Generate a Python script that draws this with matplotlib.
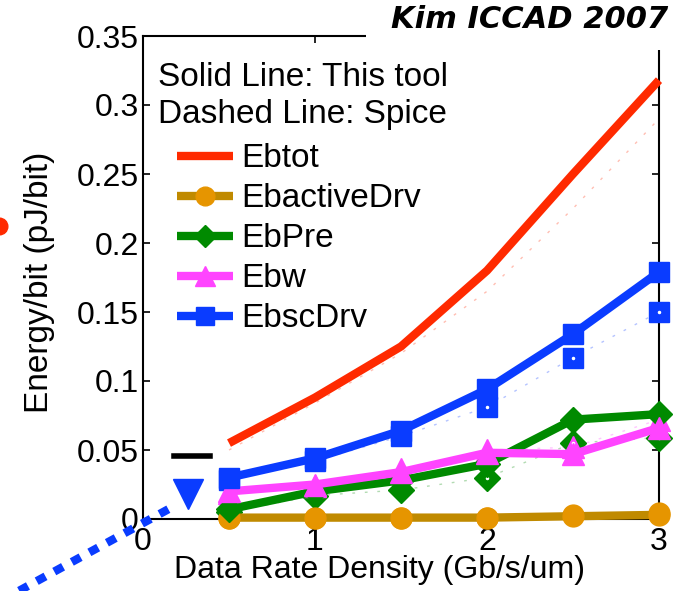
import matplotlib
matplotlib.use("Agg")
from matplotlib import pyplot as plt
from matplotlib.patches import Rectangle
import numpy as np

rate = [0.5, 1.0, 1.5, 2.0, 2.5, 3.0]

# solid lines: this tool
ebtot = [0.055, 0.088, 0.125, 0.180, 0.250, 0.318]
ebactive = [0.001, 0.001, 0.001, 0.001, 0.002, 0.003]
ebpre = [0.007, 0.020, 0.028, 0.040, 0.072, 0.076]
ebw = [0.020, 0.025, 0.034, 0.048, 0.047, 0.066]
ebsc = [0.030, 0.044, 0.064, 0.094, 0.134, 0.179]

# dashed lines: spice
ebtot_sp = [0.050, 0.084, 0.120, 0.165, 0.225, 0.290]
ebactive_sp = [0.001, 0.001, 0.001, 0.001, 0.003, 0.004]
ebpre_sp = [0.005, 0.017, 0.021, 0.030, 0.055, 0.059]
ebw_sp = [0.019, 0.024, 0.036, 0.050, 0.052, 0.072]
ebsc_sp = [0.028, 0.042, 0.060, 0.081, 0.117, 0.150]

names = ["Ebtot", "EbactiveDrv", "EbPre", "Ebw", "EbscDrv"]
solid = [ebtot, ebactive, ebpre, ebw, ebsc]
spice = [ebtot_sp, ebactive_sp, ebpre_sp, ebw_sp, ebsc_sp]
line_colors = ["#ff2a00", "#c08a00", "#008a00", "#ff44ff", "#0a3cff"]
mark_colors = ["#ff2a00", "#e69500", "#008a00", "#ff44ff", "#0a3cff"]
markers = [None, "o", "D", "^", "s"]
msizes = [0, 15, 13, 16, 15]

plt.rcParams["font.family"] = ["Liberation Sans", "DejaVu Sans"]

fig = plt.figure(figsize=(6.75, 5.91), dpi=100, facecolor="white")
ax = fig.add_axes([143 / 675, 1 - 519 / 591, 516 / 675, 483 / 591])

for i in range(len(names)):
    ax.plot(rate, spice[i], color=line_colors[i], lw=1, alpha=0.3,
            dashes=(2, 7), zorder=2)
    if markers[i] is not None:
        ax.plot(rate, spice[i], ls="none", marker=markers[i], ms=msizes[i],
                color=mark_colors[i], mec=mark_colors[i], zorder=3,
                clip_on=False)
        ax.plot(rate, spice[i], ls="none", marker=".", ms=3,
                color="white", zorder=3.5, clip_on=False)
    ax.plot(rate, solid[i], color=line_colors[i], lw=6, zorder=4,
            marker=markers[i], ms=msizes[i], mfc=mark_colors[i],
            mec=mark_colors[i], label=names[i], solid_capstyle="butt",
            clip_on=False)

# slide leftovers around the plot
ax.plot([-0.72, 0.19], [-0.052, 0.010], color="#0a3cff", lw=6,
        dashes=(1.2, 1.2), clip_on=False, zorder=5)
ax.plot([0.26], [0.018], ls="none", marker="v", ms=22, color="#0a3cff",
        clip_on=False, zorder=5)
ax.plot([0.18, 0.39], [0.046, 0.046], color="black", lw=4, zorder=5)
ax.plot([-0.84], [0.212], ls="none", marker="o", ms=12, color="#ff2a00",
        clip_on=False, zorder=5)

ax.set_xlim(0, 3)
ax.set_ylim(0, 0.35)
ax.set_xticks([0, 1, 2, 3])
ax.set_yticks(np.arange(0, 0.351, 0.05))
ax.set_yticklabels(["0", "0.05", "0.1", "0.15", "0.2", "0.25", "0.3", "0.35"])
ax.tick_params(direction="in", length=5, width=1.2, labelsize=23,
               top=True, right=True, pad=3)
ax.tick_params(axis="x", pad=6)
for s in ax.spines.values():
    s.set_linewidth(1.5)

ax.set_xlabel("Data Rate Density (Gb/s/um)", fontsize=23)
ax.xaxis.set_label_coords((379 - 143) / 516, -0.075)
ax.set_ylabel("Energy/bit (pJ/bit)", fontsize=24)
ax.yaxis.set_label_coords(-(143 - 55) / 516, 0.49)

ax.text(0.029, 0.876, "Solid Line: This tool\nDashed Line: Spice",
        transform=ax.transAxes, fontsize=24, va="center", ha="left",
        linespacing=1.25)
leg = ax.legend(loc="upper left", bbox_to_anchor=(0.065, 0.778), frameon=False,
                fontsize=24, handlelength=1.7, handletextpad=0.25,
                labelspacing=0.27, borderaxespad=0, borderpad=0,
                markerscale=0.9)

# white patch behind the title covering the top-right corner
fig.patches.append(Rectangle((366 / 675, 1 - 50 / 591), 1, 1,
                             transform=fig.transFigure, facecolor="white",
                             edgecolor="none", zorder=10))
fig.text(668 / 675, 1 - 20 / 591, "Kim ICCAD 2007", ha="right", va="center",
         fontsize=22, fontweight="bold", fontstyle="italic",
         family="DejaVu Sans", zorder=11)

fig.savefig("out.png", dpi=100)
